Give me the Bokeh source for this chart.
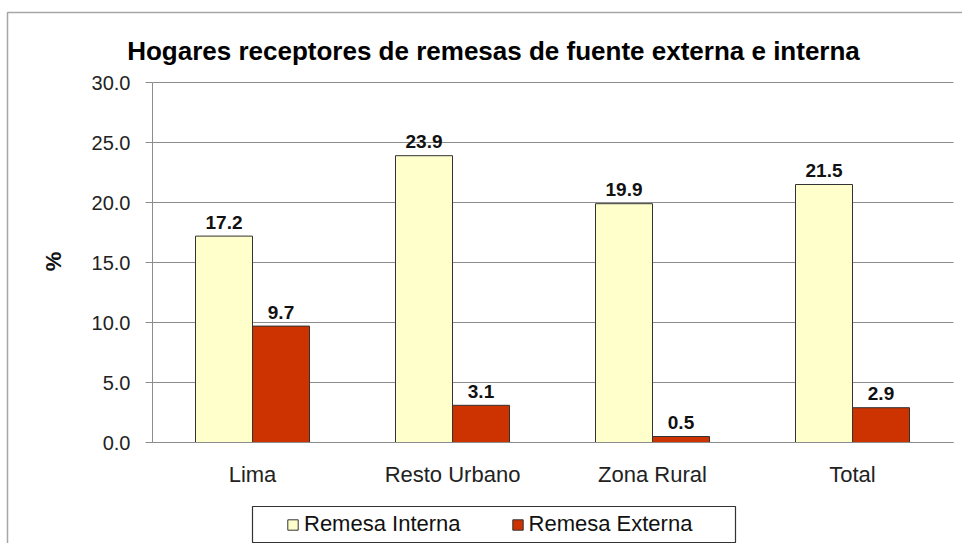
import math
from bokeh.plotting import figure
from bokeh.models import (Range1d, ColumnDataSource, Legend, LegendItem, Label,
                          BoxAnnotation, FixedTicker, PrintfTickFormatter)
from bokeh.transform import dodge
from bokeh.core.properties import value
from bokeh.embed import file_html
from bokeh.resources import INLINE

# ---- data ----
categories = ["Lima", "Resto Urbano", "Zona Rural", "Total"]
remesa_interna = [17.2, 23.9, 19.9, 21.5]
remesa_externa = [9.7, 3.1, 0.5, 2.9]
y_ticks = [0, 5, 10, 15, 20, 25, 30]
title_text = "Hogares receptores de remesas de fuente externa e interna"
y_title = "%"
series_names = ["Remesa Interna", "Remesa Externa"]

# category slots on a numeric axis (slot i spans i..i+1)
xs = [i + 0.5 for i in range(len(categories))]
n = len(categories)

src = ColumnDataSource(dict(
    x=xs,
    interna=remesa_interna,
    externa=remesa_externa,
    lbl_i=[f"{v:.1f}" for v in remesa_interna],
    lbl_e=[f"{v:.1f}" for v in remesa_externa],
))

W, H = 962, 543
# frame covers the whole canvas: 200 px per category slot, 12 px per percent
x_lo, x_hi = -152 / 200, (W - 152) / 200
y_hi = y_ticks[-1] + 82 / 12
y_lo = y_ticks[-1] - (H - 82) / 12
p = figure(width=W, height=H, x_range=Range1d(x_lo, x_hi), y_range=Range1d(y_lo, y_hi),
           output_backend="svg", toolbar_location=None, min_border=0)
p.outline_line_color = None
p.background_fill_color = "white"
p.border_fill_color = "white"

BW = 0.285
r1 = p.vbar(x=dodge("x", -BW / 2), top="interna", width=BW, source=src,
            fill_color="#FFFFCC", line_color="#333333", line_width=1)
r2 = p.vbar(x=dodge("x", BW / 2), top="externa", width=BW, source=src,
            fill_color="#CC3300", line_color="#333333", line_width=1)

lab_font = value("Liberation Sans")
p.text(x=dodge("x", -BW / 2), y="interna", text="lbl_i", source=src,
       text_align="center", text_baseline="alphabetic", y_offset=-14,
       text_font=lab_font, text_font_size="19px", text_font_style="bold", text_color="#111111")
p.text(x=dodge("x", BW / 2), y="externa", text="lbl_e", source=src,
       text_align="center", text_baseline="alphabetic", y_offset=-14,
       text_font=lab_font, text_font_size="19px", text_font_style="bold", text_color="#111111")

# y axis
ya = p.yaxis[0]
ya.fixed_location = 0
ya.bounds = (y_ticks[0], y_ticks[-1])
ya.ticker = FixedTicker(ticks=y_ticks)
ya.formatter = PrintfTickFormatter(format="%.1f")
ya.major_tick_out = 7
ya.major_tick_in = 0
ya.minor_tick_line_color = None
ya.axis_line_color = "#8c8c8c"
ya.major_tick_line_color = "#8c8c8c"
ya.major_label_text_font = "Liberation Sans"
ya.major_label_text_font_size = "20px"
ya.major_label_text_color = "#222222"
ya.major_label_standoff = 15

# x axis
xa = p.xaxis[0]
xa.fixed_location = 0
xa.bounds = (0, n + 0.005)
xa.ticker = FixedTicker(ticks=xs)
xa.major_label_overrides = {x: c for x, c in zip(xs, categories)}
xa.major_tick_line_color = None
xa.minor_tick_line_color = None
xa.major_tick_out = 0
xa.major_tick_in = 0
xa.axis_line_color = "#8c8c8c"
xa.major_label_text_font = "Liberation Sans"
xa.major_label_text_font_size = "22px"
xa.major_label_text_color = "#222222"
xa.major_label_standoff = 19

# grid
p.xgrid.grid_line_color = None
p.ygrid.ticker = FixedTicker(ticks=y_ticks)
p.ygrid.grid_line_color = "#8c8c8c"
p.ygrid.grid_line_width = 1
try:
    p.ygrid.cross_bounds = (0, n + 0.005)
except Exception:
    p.ygrid.grid_line_color = None
    p.segment(x0=[0] * len(y_ticks), x1=[n + 0.005] * len(y_ticks), y0=y_ticks, y1=y_ticks,
              line_color="#8c8c8c", line_width=1, level="underlay")

# title and axis title
p.add_layout(Label(x=493, y=50, x_units="canvas", y_units="canvas", text=title_text,
                   text_align="center", text_baseline="alphabetic",
                   text_font="Liberation Sans", text_font_size="26px", text_font_style="bold",
                   text_color="#000000"))
p.add_layout(Label(x=53, y=261, x_units="canvas", y_units="canvas", text=y_title,
                   angle=math.pi / 2, text_align="center", text_baseline="middle",
                   text_font="Liberation Sans", text_font_size="22px", text_font_style="bold",
                   text_color="#111111"))

# outer chart border
p.add_layout(BoxAnnotation(left=7, right=3000, top=12, bottom=3000,
                           left_units="canvas", right_units="canvas",
                           top_units="canvas", bottom_units="canvas",
                           fill_alpha=0, line_color="#a6a6a6", line_alpha=1, line_width=1.5))
# legend box
p.add_layout(BoxAnnotation(left=252, right=735, top=506, bottom=542,
                           left_units="canvas", right_units="canvas",
                           top_units="canvas", bottom_units="canvas",
                           fill_alpha=0, line_color="#333333", line_alpha=1, line_width=1.2))

legend = Legend(items=[LegendItem(label=series_names[0], renderers=[r1]),
                       LegendItem(label=series_names[1], renderers=[r2])],
                orientation="horizontal", location=(286, 6), padding=0, spacing=50,
                margin=0, border_line_color=None, background_fill_alpha=0,
                glyph_width=13, glyph_height=13, label_standoff=5,
                label_text_font="Liberation Sans", label_text_font_size="22px",
                label_text_color="#111111")
p.add_layout(legend, "center")

open("out.html", "w").write(file_html(p, INLINE))
